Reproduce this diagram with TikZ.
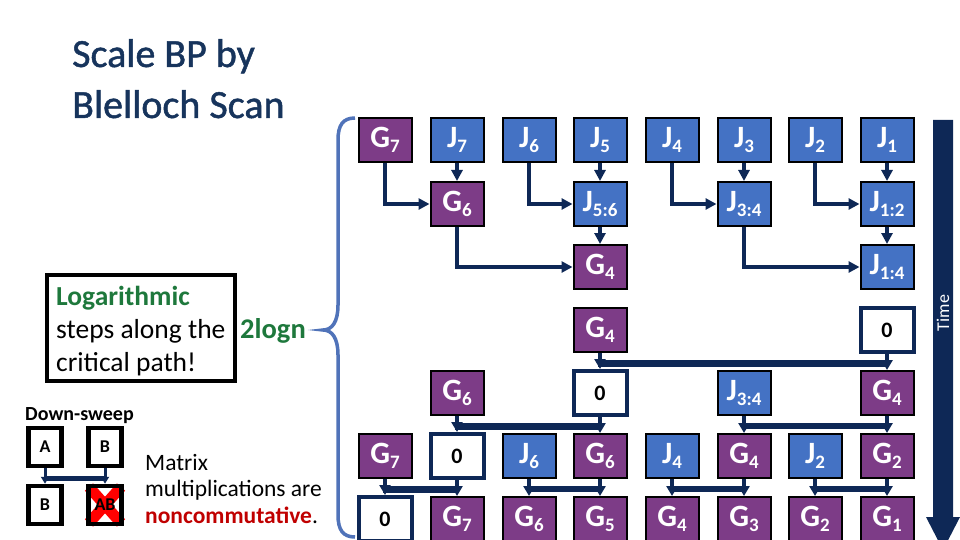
\documentclass[tikz,border=0pt]{standalone}
\usepackage{fontspec}
\setmainfont{Carlito}
\newfontfamily\titlefont{Carlito}[FakeBold=1.2]
\usetikzlibrary{arrows.meta}
\definecolor{gpurple}{RGB}{125,60,135}
\definecolor{jblue}{RGB}{68,114,196}
\definecolor{navy}{RGB}{14,40,86}
\definecolor{titlecol}{RGB}{23,52,92}
\definecolor{darkgreen}{RGB}{30,120,60}
\definecolor{darkred}{RGB}{192,0,0}
\definecolor{bracecol}{RGB}{80,115,185}
\newcommand\boxlab[2]{#1\raisebox{-5pt}{\fontsize{19}{19}\selectfont #2}}
\tikzset{
  gbox/.style={draw=black, line width=2pt, fill=gpurple, minimum width=53pt, minimum height=44pt,
    inner sep=0pt, text=white, font=\fontsize{31}{31}\selectfont\bfseries},
  jbox/.style={gbox, fill=jblue},
  zbox/.style={gbox, fill=white, draw=navy, line width=4pt, text=black, font=\fontsize{22}{22}\selectfont\bfseries},
  conn/.style={draw=navy, line width=4.5pt, -{Triangle[length=11pt,width=11pt]}},
  sconn/.style={draw=navy, line width=3.5pt, -{Triangle[length=10pt,width=11pt]}},
  lbox/.style={draw=black, line width=4.5pt, minimum width=33pt, minimum height=38pt, inner sep=0pt,
    font=\fontsize{18}{18}\selectfont\bfseries},
  lconn/.style={draw=navy, line width=3pt, -{Triangle[length=7pt,width=8pt]}}
}
\begin{document}
\begin{tikzpicture}[x=1pt,y=-1pt]
\useasboundingbox (0,0) rectangle (960,540);
\clip (0,0) rectangle (960,540);
% title
\node[anchor=base west, inner sep=0pt, text=titlecol, font=\fontsize{40}{51}\titlefont] (title) at (72,67)
  {\begin{tabular}[t]{@{}l@{}}Scale BP by\\Blelloch Scan\end{tabular}};
% critical path box
\node[draw=black, line width=4.5pt, minimum width=188pt, minimum height=106pt, inner sep=0pt] (critbox) at (141,328) {};
\node[anchor=base west, inner sep=0pt, font=\fontsize{27.5}{33}\selectfont] (crittext) at (56,305)
  {\begin{tabular}[t]{@{}l@{}}\textcolor{darkgreen}{\bfseries Logarithmic}\\steps along the\\critical path!\end{tabular}};
\node[anchor=base west, inner sep=0pt, text=darkgreen, font=\fontsize{28.5}{28.5}\selectfont\bfseries] (twolog) at (240,338) {2logn};
% brace
\draw[bracecol, line width=3.5pt] (355,118) .. controls (343,118) and (338,125) .. (338,140) -- (338,305)
  .. controls (338,322) and (332,330) .. (323,330) .. controls (332,330) and (338,338) .. (338,355)
  -- (338,515) .. controls (338,530) and (343,537) .. (355,537);
% legend
\node[anchor=base west, inner sep=0pt, font=\fontsize{20}{20}\selectfont\bfseries] (dslabel) at (25,420) {Down-sweep};
\node[lbox] (la) at (45,447) {A};
\node[lbox] (lb) at (105,447) {B};
\node[lbox] (lc) at (45,505) {B};
\draw[red, line width=11pt] (89,487) -- (121,523) (121,487) -- (89,523);
\node[lbox] (ld) at (105,505) {AB};
\draw[lconn] (la.south) -- ++(0,9) -| (ld.north);
\draw[lconn] (lb.south) -- ++(0,11) -| (lc.north);
\node[anchor=base west, inner sep=0pt, font=\fontsize{23.5}{26.5}\selectfont] (matrixtext) at (145,470)
  {\begin{tabular}[t]{@{}l@{}}Matrix\\multiplications are\\\textcolor{darkred}{\bfseries noncommutative}.\end{tabular}};
% time arrow
\fill[navy] (933,120) -- (953,120) -- (953,517) -- (960,517) -- (943,550) -- (926,517) -- (933,517) -- cycle;
\node[rotate=90, text=white, inner sep=0pt, font=\fontsize{18}{18}\selectfont] (timelbl) at (943,313) {Time};
% row 1
\node[gbox] (r1c1) at (385,140) {\boxlab{G}{7}};
\node[jbox] (r1c2) at (457,140) {\boxlab{J}{7}};
\node[jbox] (r1c3) at (529,140) {\boxlab{J}{6}};
\node[jbox] (r1c4) at (600,140) {\boxlab{J}{5}};
\node[jbox] (r1c5) at (672,140) {\boxlab{J}{4}};
\node[jbox] (r1c6) at (744,140) {\boxlab{J}{3}};
\node[jbox] (r1c7) at (815,140) {\boxlab{J}{2}};
\node[jbox] (r1c8) at (887,140) {\boxlab{J}{1}};
% row 2
\node[gbox] (r2c2) at (457,204) {\boxlab{G}{6}};
\node[jbox] (r2c4) at (600,204) {\boxlab{J}{5:6}};
\node[jbox] (r2c6) at (744,204) {\boxlab{J}{3:4}};
\node[jbox] (r2c8) at (887,204) {\boxlab{J}{1:2}};
% row 3
\node[gbox] (r3c4) at (600,267) {\boxlab{G}{4}};
\node[jbox] (r3c8) at (887,267) {\boxlab{J}{1:4}};
% row 4
\node[gbox] (r4c4) at (600,330) {\boxlab{G}{4}};
\node[zbox] (r4c8) at (887,330) {0};
% row 5
\node[gbox] (r5c2) at (457,393) {\boxlab{G}{6}};
\node[zbox] (r5c4) at (600,393) {0};
\node[jbox] (r5c6) at (744,393) {\boxlab{J}{3:4}};
\node[gbox] (r5c8) at (887,393) {\boxlab{G}{4}};
% row 6
\node[gbox] (r6c1) at (385,456) {\boxlab{G}{7}};
\node[zbox] (r6c2) at (457,456) {0};
\node[jbox] (r6c3) at (529,456) {\boxlab{J}{6}};
\node[gbox] (r6c4) at (600,456) {\boxlab{G}{6}};
\node[jbox] (r6c5) at (672,456) {\boxlab{J}{4}};
\node[gbox] (r6c6) at (744,456) {\boxlab{G}{4}};
\node[jbox] (r6c7) at (815,456) {\boxlab{J}{2}};
\node[gbox] (r6c8) at (887,456) {\boxlab{G}{2}};
% row 7
\node[zbox] (r7c1) at (385,519) {0};
\node[gbox] (r7c2) at (457,519) {\boxlab{G}{7}};
\node[gbox] (r7c3) at (529,519) {\boxlab{G}{6}};
\node[gbox] (r7c4) at (600,519) {\boxlab{G}{5}};
\node[gbox] (r7c5) at (672,519) {\boxlab{G}{4}};
\node[gbox] (r7c6) at (744,519) {\boxlab{G}{3}};
\node[gbox] (r7c7) at (815,519) {\boxlab{G}{2}};
\node[gbox] (r7c8) at (887,519) {\boxlab{G}{1}};
% up-sweep connectors
\draw[conn] (r1c1.south) |- (r2c2.west);
\draw[conn] (r1c2.south) -- (r2c2.north);
\draw[conn] (r1c3.south) |- (r2c4.west);
\draw[conn] (r1c4.south) -- (r2c4.north);
\draw[conn] (r1c5.south) |- (r2c6.west);
\draw[conn] (r1c6.south) -- (r2c6.north);
\draw[conn] (r1c7.south) |- (r2c8.west);
\draw[conn] (r1c8.south) -- (r2c8.north);
\draw[conn] (r2c2.south) |- (r3c4.west);
\draw[conn] (r2c4.south) -- (r3c4.north);
\draw[conn] (r2c6.south) |- (r3c8.west);
\draw[conn] (r2c8.south) -- (r3c8.north);
% down-sweep connectors
\draw[sconn] (r4c4.south) -- ++(0,9) -| (r5c8.north);
\draw[sconn] (r4c8.south) -- ++(0,11) -| (r5c4.north);
\draw[sconn] (r5c2.south) -- ++(0,9) -| (r6c4.north);
\draw[sconn] (r5c4.south) -- ++(0,11) -| (r6c2.north);
\draw[sconn] (r5c6.south) -- ++(0,9) -| (r6c8.north);
\draw[sconn] (r5c8.south) -- ++(0,11) -| (r6c6.north);
\draw[sconn] (r6c1.south) -- ++(0,9) -| (r7c2.north);
\draw[sconn] (r6c2.south) -- ++(0,11) -| (r7c1.north);
\draw[sconn] (r6c3.south) -- ++(0,9) -| (r7c4.north);
\draw[sconn] (r6c4.south) -- ++(0,11) -| (r7c3.north);
\draw[sconn] (r6c5.south) -- ++(0,9) -| (r7c6.north);
\draw[sconn] (r6c6.south) -- ++(0,11) -| (r7c5.north);
\draw[sconn] (r6c7.south) -- ++(0,9) -| (r7c8.north);
\draw[sconn] (r6c8.south) -- ++(0,11) -| (r7c7.north);
\end{tikzpicture}
\end{document}
